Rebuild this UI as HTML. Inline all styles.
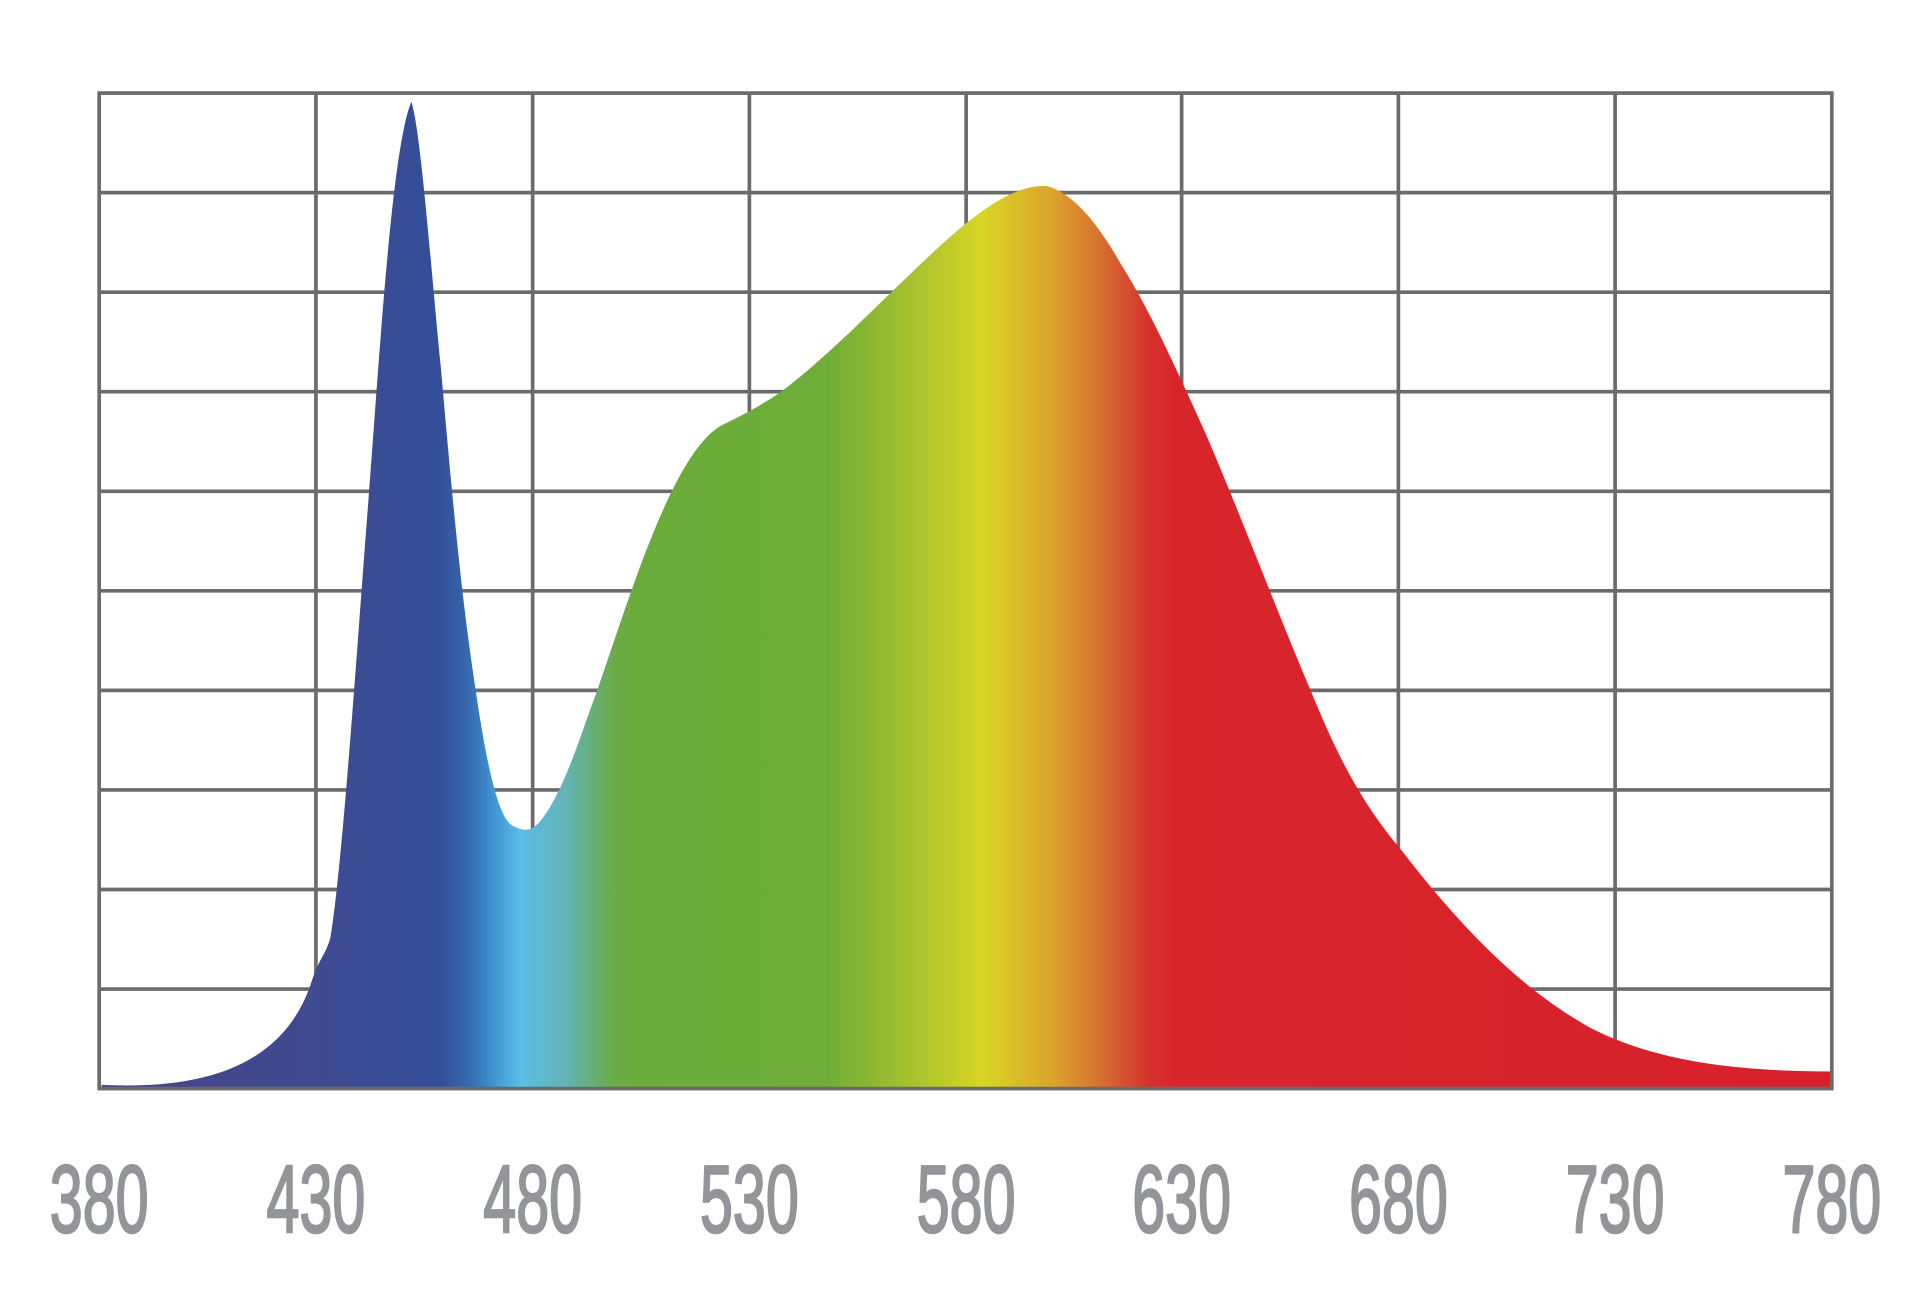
<!DOCTYPE html>
<html><head><meta charset="utf-8"><style>html,body{margin:0;padding:0;background:#fff}svg{display:block}</style></head>
<body>
<svg width="1920" height="1291" viewBox="0 0 1568 1054.3" xmlns="http://www.w3.org/2000/svg">
<defs>
<linearGradient id="g" gradientUnits="userSpaceOnUse" x1="81" y1="0" x2="1496" y2="0">
<stop offset="0" stop-color="#47448a"/>
<stop offset="0.126" stop-color="#3f4a90"/>
<stop offset="0.197" stop-color="#334f9a"/>
<stop offset="0.212" stop-color="#3568ac"/>
<stop offset="0.226" stop-color="#3d8fcf"/>
<stop offset="0.243" stop-color="#5cbde8"/>
<stop offset="0.27" stop-color="#62b4b2"/>
<stop offset="0.297" stop-color="#6aab46"/>
<stop offset="0.31" stop-color="#6aac3a"/>
<stop offset="0.42" stop-color="#6fad38"/>
<stop offset="0.47" stop-color="#a8c22e"/>
<stop offset="0.51" stop-color="#d8d624"/>
<stop offset="0.55" stop-color="#dca42c"/>
<stop offset="0.58" stop-color="#d66c30"/>
<stop offset="0.605" stop-color="#d6322d"/>
<stop offset="0.62" stop-color="#d8252c"/>
<stop offset="1" stop-color="#d8202a"/>
</linearGradient>
</defs>
<g stroke="#6b6b6b" stroke-width="3" fill="none">
<path d="M258,76V889M435,76V889M612,76V889M789,76V889M965,76V889M1142,76V889M1319,76V889
M81,157.3H1496M81,238.6H1496M81,319.9H1496M81,401.2H1496M81,482.5H1496M81,563.8H1496M81,645.1H1496M81,726.4H1496M81,807.7H1496"/>
</g>
<path fill="url(#g)" d="M83,886 C150,889 230,880 255,800 C262,780 266,780 270,765 C280,700 290,550 300,420 C310,290 320,120 336,83 C344,110 352,220 360,300 C368,390 375,470 385,540 C395,610 405,670 420,675 C426,678 432,680 440,672 C455,655 468,620 480,585 C505,520 545,370 590,347 C600,342 615,335 635,322 C675,293 720,245 760,208 C790,180 825,150 855,152 C875,157 895,180 915,215 C940,255 960,300 985,355 C1015,425 1045,505 1075,575 C1100,635 1120,665 1145,695 C1195,760 1245,810 1300,840 C1350,865 1410,875 1496,875 L1496,889 L83,889 Z"/>
<rect x="81" y="76" width="1415" height="813" stroke="#6b6b6b" stroke-width="3" fill="none"/>
<g font-family="Liberation Sans, sans-serif" font-size="78" fill="#939598" stroke="#939598" stroke-width="2" text-anchor="middle">
<text transform="translate(81,1006) scale(0.62,1)">380</text>
<text transform="translate(258,1006) scale(0.62,1)">430</text>
<text transform="translate(435,1006) scale(0.62,1)">480</text>
<text transform="translate(612,1006) scale(0.62,1)">530</text>
<text transform="translate(789,1006) scale(0.62,1)">580</text>
<text transform="translate(965,1006) scale(0.62,1)">630</text>
<text transform="translate(1142,1006) scale(0.62,1)">680</text>
<text transform="translate(1319,1006) scale(0.62,1)">730</text>
<text transform="translate(1496,1006) scale(0.62,1)">780</text>
</g>
</svg>
</body></html>
